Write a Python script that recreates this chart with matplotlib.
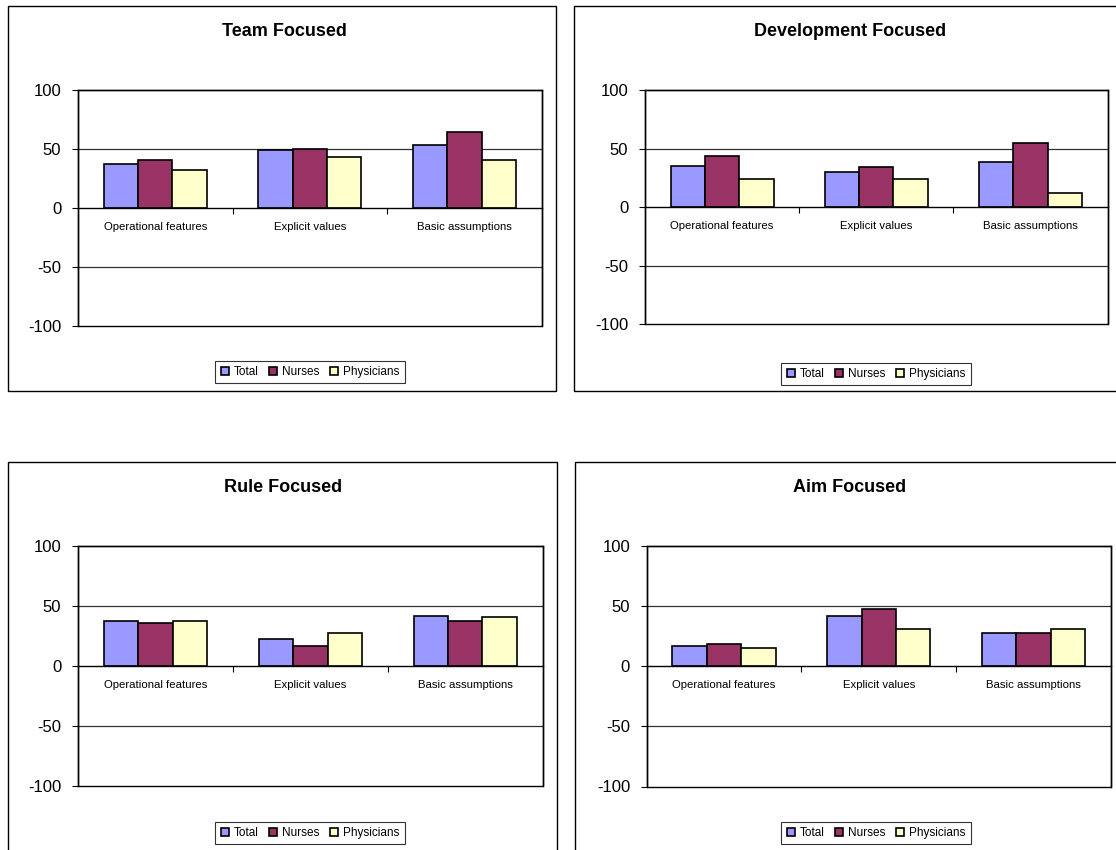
import numpy as np
import matplotlib.pyplot as plt
from matplotlib.patches import Rectangle

plt.rcParams['font.family'] = ['Liberation Sans', 'DejaVu Sans']
plt.rcParams['axes.unicode_minus'] = False

categories = ['Operational features', 'Explicit values', 'Basic assumptions']
series = ['Total', 'Nurses', 'Physicians']
colors = ['#9999FF', '#993366', '#FFFFCC']

titles = ['Team Focused', 'Development Focused', 'Rule Focused', 'Aim Focused']

team_total = [37.5, 49, 53]
team_nurses = [40.5, 50, 64]
team_phys = [32, 43, 40.5]

dev_total = [35.5, 30, 38.5]
dev_nurses = [44, 34, 54.5]
dev_phys = [24, 24, 12.5]

rule_total = [37.5, 22.5, 41.5]
rule_nurses = [36, 17, 37.5]
rule_phys = [37.5, 27.5, 40.5]

aim_total = [16.5, 41.5, 27.5]
aim_nurses = [18, 47.5, 27.5]
aim_phys = [15, 30.5, 30.5]

panels = [
    [team_total, team_nurses, team_phys],
    [dev_total, dev_nurses, dev_phys],
    [rule_total, rule_nurses, rule_phys],
    [aim_total, aim_nurses, aim_phys],
]

W, H = 1116, 850
fig = plt.figure(figsize=(W / 100, H / 100), dpi=100)


def px_rect(x0, y0, x1, y1):
    # pixel box (top-left origin) -> figure fraction [l, b, w, h]
    return [x0 / W, 1 - y1 / H, (x1 - x0) / W, (y1 - y0) / H]


# outer chart boxes
boxes = [(8, 6, 556, 391), (574, 6, 1120, 391), (8, 462, 557, 854), (575, 462, 1120, 854)]
# plot areas
areas = [(78, 90, 541.7, 326), (645, 90, 1107.7, 324.3), (78, 546, 542.7, 786), (646.7, 545.5, 1110.7, 786.5)]
# title and legend positions (pixels)
title_pos = [(284, 31), (850, 31), (283, 487), (850, 487)]
legend_pos = [(310, 372), (876, 374), (310, 833), (876, 833)]

for box in boxes:
    l, b, w, h = px_rect(*box)
    fig.patches.append(Rectangle((l, b), w, h, transform=fig.transFigure,
                                 fill=False, edgecolor='black', linewidth=1.0))

x = np.arange(len(categories))
width = 1 / 4.5

for i, data in enumerate(panels):
    ax = fig.add_axes(px_rect(*areas[i]))
    handles = []
    for j, vals in enumerate(data):
        h = ax.bar(x + (j - 1) * width, vals, width, color=colors[j],
                   edgecolor='black', linewidth=1.2, label=series[j], zorder=3)
        handles.append(h)

    ax.set_xlim(-0.5, 2.5)
    ax.set_ylim(-100, 100)
    ax.set_yticks([-100, -50, 0, 50, 100])
    ax.tick_params(axis='y', direction='out', length=4, width=0.8,
                   labelsize=12, pad=8)
    for yv in [-50, 50]:
        ax.axhline(yv, color='#333333', linewidth=0.9, zorder=1)

    # category axis crosses at zero
    for s in ['top', 'right', 'left']:
        ax.spines[s].set_linewidth(1.0)
    ax.spines['bottom'].set_position(('data', 0))
    ax.spines['bottom'].set_linewidth(1.0)
    ax.spines['bottom'].set_zorder(4)
    ax.add_patch(Rectangle((0, 0), 1, 1, transform=ax.transAxes, fill=False,
                           edgecolor='black', linewidth=1.0, zorder=5, clip_on=False))

    ax.set_xticks([0.5, 1.5])
    ax.set_xticklabels(['', ''])
    ax.tick_params(axis='x', which='major', direction='out', length=4, width=0.8)
    ax.set_xticks(x, minor=True)
    ax.set_xticklabels(categories, minor=True)
    ax.tick_params(axis='x', which='minor', length=0, labelsize=8.2, pad=10)

    tx, ty = title_pos[i]
    fig.text(tx / W, 1 - ty / H, titles[i], ha='center', va='center',
             fontsize=13, fontweight='bold')

    lx, ly = legend_pos[i]
    leg = fig.legend(handles=handles, loc='center', bbox_to_anchor=(lx / W, 1 - ly / H),
                     ncol=3, fontsize=8.5, frameon=True, fancybox=False,
                     handlelength=0.7, handleheight=0.7, handletextpad=0.4,
                     columnspacing=0.9, borderpad=0.45, borderaxespad=0)
    leg.get_frame().set_edgecolor('black')
    leg.get_frame().set_linewidth(0.8)

fig.savefig('out.png', dpi=100)
